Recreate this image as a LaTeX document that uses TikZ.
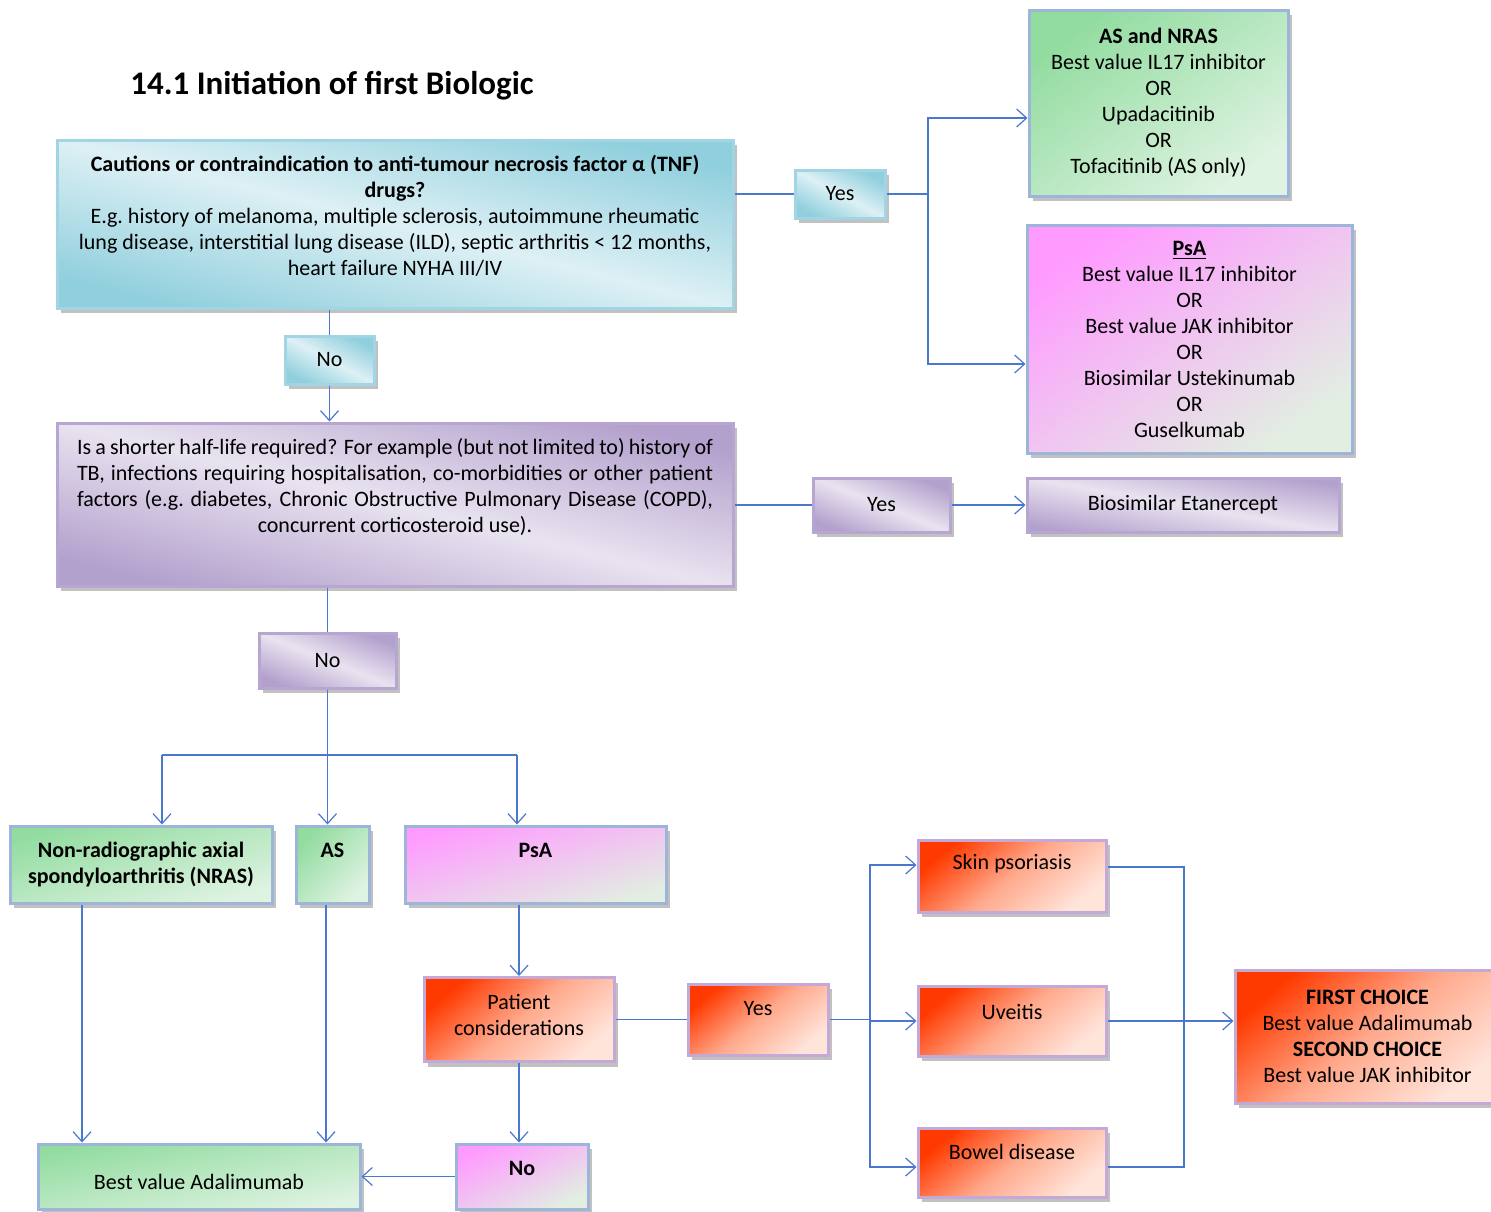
\documentclass[tikz,border=0pt]{standalone}
\usepackage{fontspec}
\setmainfont{Carlito}
\usetikzlibrary{arrows.meta,shadows}
\definecolor{lineb}{HTML}{4A78CC}
\definecolor{blued}{HTML}{90CFDD}
\definecolor{bluel}{HTML}{DDF0F5}
\definecolor{blueb}{HTML}{A2D5E3}
\definecolor{purd}{HTML}{B3A1CD}
\definecolor{purl}{HTML}{E9E3F0}
\definecolor{purb}{HTML}{B6A6D1}
\definecolor{greend}{HTML}{92DCA0}
\definecolor{greenl}{HTML}{DFF3E2}
\definecolor{pinkd}{HTML}{FF9BFF}
\definecolor{pinkl}{HTML}{E2EEE2}
\definecolor{orad}{HTML}{FF3A00}
\definecolor{oram}{HTML}{FFA98C}
\definecolor{oral}{HTML}{FFE4DA}
\definecolor{boxb}{HTML}{9EB5DA}
\definecolor{orab}{HTML}{C4A8D6}

\begin{document}
\begin{tikzpicture}[x=0.5pt,y=-0.5pt,
  >={Straight Barb[length=5pt,width=9pt]},
  box/.style={rectangle,line width=1.5pt,inner sep=0pt,align=center,
    font=\fontsize{11}{13}\selectfont,
    drop shadow={shadow xshift=2pt,shadow yshift=-2.5pt,fill=black!35,opacity=0.7}},
  bluebox/.style={box,draw=blueb,top color=blued,bottom color=blued,middle color=bluel,shading angle=#1},
  bluebox/.default=-28,
  purbox/.style={box,draw=purb,top color=purd,bottom color=purd,middle color=purl,shading angle=#1},
  purbox/.default=-22,
  greenbox/.style={box,draw=boxb,top color=greend,bottom color=greenl,shading angle=#1},
  greenbox/.default=30,
  pinkbox/.style={box,draw=boxb,top color=pinkd,bottom color=pinkl,shading angle=#1},
  pinkbox/.default=30,
  orabox/.style={box,draw=orab,top color=orad,bottom color=oral,middle color=oram,shading angle=#1},
  orabox/.default=40,
  lift/.style={text depth=#1},
  sink/.style={text height=#1},
  conn/.style={lineb,line width=0.6pt}]
\useasboundingbox (0,0) rectangle (1491,1211);

\node (0) at (332,86) {\fontsize{16.5}{20}\selectfont\bfseries 14.1 Initiation of first Biologic};

\node[bluebox=-14,minimum width=338pt,minimum height=84pt,lift=9pt] (1) at (395,224)
  {\textbf{Cautions or contraindication to anti-tumour necrosis factor α (TNF)}\\
   \textbf{drugs?}\\
   E.g.\ history of melanoma, multiple sclerosis, autoimmune rheumatic\\
   lung disease, interstitial lung disease (ILD), septic arthritis < 12 months,\\
   heart failure NYHA III/IV};
\node[bluebox,minimum width=45pt,minimum height=24pt] (2) at (840,194) {Yes};
\node[greenbox=36,minimum width=129.5pt,minimum height=93pt] (3) at (1158.5,103)
  {\textbf{AS and NRAS}\\ Best value IL17 inhibitor\\ OR\\ Upadacitinib\\ OR\\ Tofacitinib (AS only)};
\node[pinkbox=35,minimum width=162.5pt,minimum height=114pt] (4) at (1189.5,339)
  {\underline{\textbf{PsA}}\\ Best value IL17 inhibitor\\ OR\\ Best value JAK inhibitor\\ OR\\
   Biosimilar Ustekinumab\\ OR\\ Guselkumab};
\node[bluebox,minimum width=44.5pt,minimum height=24pt] (5) at (329.5,360) {No};
\node[purbox=-14,minimum width=338pt,minimum height=81.5pt,text width=318pt,align=justify,lift=58.5pt] (6) at (395,504.5)
  {Is a shorter half-life required? For example (but not limited to) history of\linebreak
   TB, infections requiring hospitalisation, co-morbidities or other patient\linebreak
   factors (e.g.\ diabetes, Chronic Obstructive Pulmonary Disease (COPD),\linebreak
   \hspace*{\fill}concurrent corticosteroid use).\hspace*{\fill}\mbox{}};
\node[purbox,minimum width=68.5pt,minimum height=27pt] (7) at (881.5,505) {Yes};
\node[purbox=-10,minimum width=156pt,minimum height=27pt] (8) at (1183,505) {Biosimilar Etanercept};
\node[purbox,minimum width=68.5pt,minimum height=27.5pt] (9) at (327.5,660.5) {No};

\node[greenbox=16,minimum width=131pt,minimum height=38.5pt] (10) at (141,864.5)
  {\textbf{Non-radiographic axial}\\ \textbf{spondyloarthritis (NRAS)}};
\node[greenbox=46,minimum width=36.5pt,minimum height=38.5pt,lift=14.5pt] (11) at (332.5,864.5) {\textbf{AS}};
\node[pinkbox=16,minimum width=130.5pt,minimum height=38.5pt,lift=14.5pt] (12) at (535.5,864.5) {\textbf{PsA}};
\node[greenbox=11,minimum width=161pt,minimum height=32.5pt,sink=13pt] (13) at (199,1176.5) {Best value Adalimumab};
\node[orabox,minimum width=95pt,minimum height=42pt,lift=5pt] (14) at (519,1019.5) {Patient\\ considerations};
\node[orabox,minimum width=70pt,minimum height=35.5pt,lift=11.5pt] (15) at (758,1019.5) {Yes};
\node[pinkbox=26,minimum width=66pt,minimum height=32.5pt,lift=8.5pt] (16) at (522,1176.5) {\textbf{No}};
\node[orabox,minimum width=94pt,minimum height=36pt,lift=14pt] (17) at (1012,876) {Skin psoriasis};
\node[orabox,minimum width=94pt,minimum height=35pt,lift=9pt] (18) at (1012,1021) {Uveitis};
\node[orabox,minimum width=94pt,minimum height=34.5pt,lift=10.5pt] (19) at (1012,1162.5) {Bowel disease};
\node[orabox,minimum width=132.5pt,minimum height=66.5pt] (20) at (1367.5,1036.5)
  {\textbf{FIRST CHOICE}\\ Best value Adalimumab\\ \textbf{SECOND CHOICE}\\ Best value JAK inhibitor};

\coordinate (j1) at (928,194);
\coordinate (j3) at (162,755);
\coordinate (j4) at (517,755);
\coordinate (j5) at (870,1019.5);
\coordinate (j7) at (1184,1019.5);

\draw[conn] (1.east |- 2.west) -- (2.west);
\draw[conn] (2.east) -- (j1);
\draw[conn,->] (j1) |- ([yshift=-7.5pt]3.west);
\draw[conn,->] (j1) |- ([yshift=-12.5pt]4.west);
\draw[conn] (5.north |- 1.south) -- (5.north);
\draw[conn,->] (5.south) -- (5.south |- 6.north);
\draw[conn] (7.west -| 6.east) -- (7.west);
\draw[conn,->] (7.east) -- (8.west);
\draw[conn] (9.north |- 6.south) -- (9.north);
\draw[conn,->] (9.south) -- (9.south |- 11.north);
\draw[conn] (j3) -- (j4);
\draw[conn,->] (j3) -- (j3 |- 10.north);
\draw[conn,->] (j4) -- (j4 |- 12.north);
\draw[conn,->] ([xshift=-29.5pt]10.south) -- ([xshift=-29.5pt]10.south |- 13.north);
\draw[conn,->] ([xshift=-3.25pt]11.south) -- ([xshift=-3.25pt]11.south |- 13.north);
\draw[conn,->] (14.north |- 12.south) -- (14.north);
\draw[conn] (14.east) -- (15.west);
\draw[conn,->] (14.south) -- (14.south |- 16.north);
\draw[conn,->] (16.west) -- (16.west -| 13.east);
\draw[conn] (15.east) -- (j5);
\draw[conn,->] (j5) |- ([yshift=5.5pt]17.west);
\draw[conn,->] (j5) |- (18.west);
\draw[conn,->] (j5) |- ([yshift=-2.25pt]19.west);
\draw[conn] ([yshift=4.5pt]17.east) -| (j7) |- ([yshift=-2.25pt]19.east);
\draw[conn] (18.east) -- (18.east -| j7);
\draw[conn,->] (18.east -| j7) -- (18.east -| 20.west);
\end{tikzpicture}
\end{document}
